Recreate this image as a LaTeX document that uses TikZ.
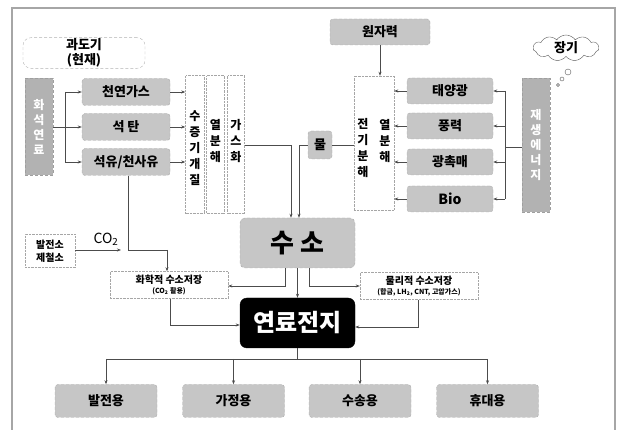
\documentclass[tikz,border=0pt]{standalone}
\usepackage{fontspec}
\setmainfont{Noto Sans CJK KR}
\usetikzlibrary{arrows.meta,shapes.symbols}
\begin{document}
\begin{tikzpicture}[x=1pt,y=-1pt,
  graybox/.style={rectangle,rounded corners=3pt,fill=gray!45,draw=gray!65,densely dashed,font=\bfseries\fontsize{13}{14}\selectfont,inner sep=1pt},
  dashbox/.style={rectangle,draw=gray!70,densely dotted,fill=white,inner sep=1pt},
  sidebar/.style={rectangle,fill=gray!60,draw=gray!75,densely dashed,text=white,font=\bfseries\fontsize{12}{15}\selectfont,align=center},
  vtext/.style={font=\bfseries\fontsize{12}{16}\selectfont,align=center,inner sep=0pt},
  arr/.style={-{Stealth[length=4pt,width=3pt]},gray!60!black,line width=0.6pt},
  ln/.style={gray!60!black,line width=0.6pt}]
\useasboundingbox (0,0) rectangle (622,430);
\draw[gray!70,line width=1.2pt] (12,432) -- (12,8) -- (615,8) -- (615,432);

% transition label
\node[draw=gray!60,densely dashed,rounded corners=8pt,minimum width=122pt,minimum height=30pt,align=center,font=\bfseries\fontsize{13}{15}\selectfont,inner sep=1pt] (now) at (84,53) {과도기\\(현재)};

% left side
\node[sidebar,minimum width=28pt,minimum height=97pt] (lbar) at (39,126.5) {화\\석\\연\\료};
\node[graybox,minimum width=88pt,minimum height=27pt] (ng) at (126,92) {천연가스};
\node[graybox,minimum width=88pt,minimum height=27pt] (coal) at (126,127) {석 탄};
\node[graybox,minimum width=88pt,minimum height=27pt] (oil) at (126,162) {석유/천사유};

\node[dashbox,minimum width=19pt,minimum height=138pt] (c1) at (195,144.5) {};
\node[dashbox,minimum width=18pt,minimum height=138pt] (c2) at (215.5,144.5) {};
\node[dashbox,minimum width=17pt,minimum height=138pt] (c3) at (236,144.5) {};
\node[vtext] (t1) at (195,148) {수\\증\\기\\개\\질};
\node[vtext] (t2) at (215.5,141) {열\\분\\해};
\node[vtext] (t3) at (236,141) {가\\스\\화};

\coordinate (lj) at (65,127);
\draw[ln] (lbar.east |- lj) -- (lj);
\draw[ln] (lj |- ng) -- (lj |- oil);
\draw[arr] (lj |- ng) -- (ng.west);
\draw[arr] (lj) -- (coal.west);
\draw[arr] (lj |- oil) -- (oil.west);
\draw[arr] (ng.east) -- (c1.west |- ng);
\draw[arr] (coal.east) -- (c1.west |- coal);
\draw[arr] (oil.east) -- (c1.west |- oil);

% right side
\node[graybox,minimum width=100pt,minimum height=26pt] (nu) at (380,32) {원자력};
\node[dashbox,minimum width=40pt,minimum height=134pt] (el) at (374,143) {};
\node[vtext] (t4) at (363,148) {전\\기\\분\\해};
\node[vtext] (t5) at (385,141) {열\\분\\해};
\node[graybox,minimum width=86pt,minimum height=26pt] (sun) at (450,91) {태양광};
\node[graybox,minimum width=86pt,minimum height=26pt] (wind) at (450,126) {풍력};
\node[graybox,minimum width=86pt,minimum height=26pt] (cat) at (450,162) {광촉매};
\node[graybox,minimum width=86pt,minimum height=26pt,font=\bfseries\fontsize{14}{15}\selectfont] (bio) at (450,199) {Bio};
\node[sidebar,minimum width=28pt,minimum height=134pt] (rbar) at (536,145) {재\\생\\에\\너\\지};
\node[cloud,draw=gray!70!black,cloud puffs=11,cloud puff arc=110,aspect=2.6,minimum width=66pt,minimum height=26pt,inner sep=0pt,font=\bfseries\fontsize{13}{14}\selectfont] (long) at (566,48) {장기};
\node[circle,draw=gray!70!black,inner sep=0pt,minimum size=6pt] (b1) at (568,72) {};
\node[circle,draw=gray!70!black,inner sep=0pt,minimum size=4pt] (b2) at (562,79) {};
\node[circle,draw=gray!70!black,inner sep=0pt,minimum size=3pt] (b3) at (558,85) {};

\draw[arr] (nu.south) -- (el.north -| nu.south);
\draw[arr] (sun.west) -- (el.east |- sun);
\draw[arr] (wind.west) -- (el.east |- wind);
\draw[arr] (cat.west) -- (el.east |- cat);
\draw[arr] (bio.west) -- (el.east |- bio);
\coordinate (rj) at (505,147);
\draw[ln] (rbar.west |- rj) -- (rj);
\draw[ln] (rj |- sun) -- (rj |- bio);
\draw[arr] (rj |- sun) -- (sun.east);
\draw[arr] (rj |- wind) -- (wind.east);
\draw[arr] (rj |- cat) -- (cat.east);
\draw[arr] (rj |- bio) -- (bio.east);

% water
\node[graybox,minimum width=24pt,minimum height=28pt] (w) at (320,145) {물};
\draw[ln] (w.east) -- (el.west |- w);

% hydrogen
\node[graybox,rounded corners=5pt,minimum width=115pt,minimum height=50pt,font=\bfseries\fontsize{26}{28}\selectfont] (hy) at (297.5,243) {수 소};
\coordinate (g1) at (291,145);
\coordinate (g2) at (299,145);
\draw[arr] (c3.east |- g1) -- (g1) -- (g1 |- hy.north);
\draw[arr] (w.west |- g2) -- (g2) -- (g2 |- hy.north);

% fuel cell
\node[rectangle,rounded corners=7pt,fill=black,draw=black,text=white,minimum width=115pt,minimum height=50pt,font=\bfseries\fontsize{24}{26}\selectfont] (fc) at (297.5,323) {연료전지};

% storage
\node[dashbox,minimum width=118pt,minimum height=27pt,align=center,font=\bfseries\fontsize{10}{11}\selectfont] (ch) at (169,285) {화학적 수소저장\\[-1pt]{\fontsize{7}{8}\selectfont (CO\textsubscript{2} 활용)}};
\node[dashbox,minimum width=118pt,minimum height=27pt,align=center,font=\bfseries\fontsize{10}{11}\selectfont] (ph) at (419,286) {물리적 수소저장\\[-1pt]{\fontsize{7}{8}\selectfont (합금, LH\textsubscript{2}, CNT, 고압가스)}};

\node[dashbox,minimum width=50pt,minimum height=33pt,align=center,font=\bfseries\fontsize{10}{13}\selectfont] (pp) at (50,251) {발전소\\제철소};
\node[font=\fontsize{14}{15}\selectfont,inner sep=0pt] (co2) at (106,239) {CO\textsubscript{2}};

\coordinate (oj) at (128,250);
\coordinate (oj2) at (167,250);
\draw[ln] (oil.south -| oj) -- (oj) -- (oj2);
\draw[arr] (oj2) -- (ch.north -| oj2);
\draw[arr] (pp.east |- oj) -- (121,250);

\coordinate (h1) at (285,286);
\coordinate (h2) at (309,286);
\draw[arr] (hy.south -| h1) -- (h1) -- (ch.east |- h1);
\draw[arr] (hy.south -| h2) -- (h2) -- (ph.west |- h2);
\draw[arr] (hy.south) -- (fc.north);

\coordinate (s1) at (170,325);
\coordinate (s2) at (418,327);
\draw[arr] (ch.south -| s1) -- (s1) -- (fc.west |- s1);
\draw[arr] (ph.south -| s2) -- (s2) -- (fc.east |- s2);

% uses
\node[graybox,minimum width=102pt,minimum height=33pt] (u1) at (106,401) {발전용};
\node[graybox,minimum width=102pt,minimum height=33pt] (u2) at (233.5,401) {가정용};
\node[graybox,minimum width=102pt,minimum height=33pt] (u3) at (360,401) {수송용};
\node[graybox,minimum width=102pt,minimum height=33pt] (u4) at (487.5,401) {휴대용};
\coordinate (bus) at (297.5,359);
\draw[ln] (fc.south) -- (bus);
\draw[ln] (u1.north |- bus) -- (u4.north |- bus);
\draw[arr] (u1.north |- bus) -- (u1.north);
\draw[arr] (u2.north |- bus) -- (u2.north);
\draw[arr] (u3.north |- bus) -- (u3.north);
\draw[arr] (u4.north |- bus) -- (u4.north);
\end{tikzpicture}
\end{document}
